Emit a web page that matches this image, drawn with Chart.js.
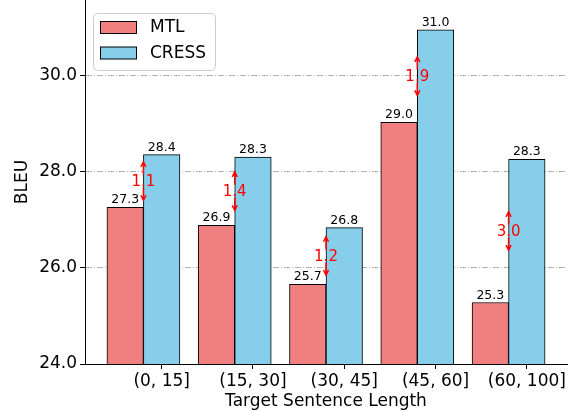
<!DOCTYPE html>
<html>
<head>
<meta charset="utf-8">
<script src="https://cdn.jsdelivr.net/npm/chart.js@4"></script>
<style>
  html, body { margin: 0; padding: 0; background: #fff; }
</style>
</head>
<body>
<canvas id="chart" width="574" height="412"></canvas>
<script>
// ====== DATA ======
const categories = ['(0, 15]', '(15, 30]', '(30, 45]', '(45, 60]', '(60, 100]'];
const mtlScores = [27.26, 26.89, 25.66, 29.03, 25.28];
const cressScores = [28.36, 28.31, 26.84, 30.96, 28.26];
const yTickValues = [24, 26, 28, 30];
const seriesNames = ['MTL', 'CRESS'];

const FONT = '"DejaVu Sans", sans-serif';
const MTL_COLOR = '#f08080';
const CRESS_COLOR = '#87ceeb';

// bars sit either side of the group position, ticks under the CRESS bar
const mtlPoints = mtlScores.map((v, i) => ({ x: i - 0.2, y: v }));
const cressPoints = cressScores.map((v, i) => ({ x: i + 0.2, y: v }));

// ====== ANNOTATIONS ======
const annotations = {
    id: 'annotations',
    afterDatasetsDraw(chart) {
        const ctx = chart.ctx;
        const xs = chart.scales.x;
        const ys = chart.scales.y;
        ctx.save();

        // value labels on top of the bars
        ctx.fillStyle = '#000';
        ctx.font = '12.5px ' + FONT;
        ctx.textAlign = 'center';
        ctx.textBaseline = 'bottom';
        [mtlPoints, cressPoints].forEach(points => {
            points.forEach(p => {
                ctx.fillText(p.y.toFixed(1), xs.getPixelForValue(p.x), ys.getPixelForValue(p.y) - 1);
            });
        });

        // red gap arrows
        ctx.strokeStyle = 'red';
        ctx.fillStyle = 'red';
        ctx.lineWidth = 1.5;
        ctx.font = '15px ' + FONT;
        ctx.textBaseline = 'middle';
        categories.forEach((c, i) => {
            const x = xs.getPixelForValue(i);
            const mid = (mtlScores[i] + cressScores[i]) / 2;
            const top = ys.getPixelForValue(mid + 0.4);
            const bot = ys.getPixelForValue(mid - 0.4);
            const yc = ys.getPixelForValue(mid);
            const gap = 6.5;

            ctx.beginPath();
            ctx.moveTo(x, top); ctx.lineTo(x, yc - gap);
            ctx.moveTo(x, yc + gap); ctx.lineTo(x, bot);
            // heads
            ctx.moveTo(x - 2.5, top + 5); ctx.lineTo(x, top); ctx.lineTo(x + 2.5, top + 5);
            ctx.moveTo(x - 2.5, bot - 5); ctx.lineTo(x, bot); ctx.lineTo(x + 2.5, bot - 5);
            ctx.stroke();

            ctx.fillText((cressScores[i] - mtlScores[i]).toFixed(1), x, yc + 1);
        });
        ctx.restore();
    },
    afterDraw(chart) {
        // legend box inside the axes, top left
        const ctx = chart.ctx;
        ctx.save();
        const bx = 93.5, by = 13.5, bw = 122, bh = 57;
        ctx.fillStyle = 'rgba(255,255,255,0.8)';
        ctx.strokeStyle = '#cccccc';
        ctx.lineWidth = 1;
        ctx.beginPath();
        ctx.roundRect(bx, by, bw, bh, 4);
        ctx.fill();
        ctx.stroke();

        const colors = [MTL_COLOR, CRESS_COLOR];
        ctx.font = '17px ' + FONT;
        ctx.textAlign = 'left';
        ctx.textBaseline = 'middle';
        seriesNames.forEach((name, i) => {
            const ry = 21.5 + i * 25.5;
            ctx.fillStyle = colors[i];
            ctx.fillRect(100.5, ry, 36, 12);
            ctx.strokeStyle = '#000';
            ctx.strokeRect(100.5, ry, 36, 12);
            ctx.fillStyle = '#000';
            ctx.fillText(name, 150, ry + 6.5);
        });
        ctx.restore();
    }
};

// ====== CHART ======
const chart = new Chart(document.getElementById('chart'), {
    type: 'bar',
    data: {
        datasets: [
            { label: seriesNames[0], data: mtlPoints, backgroundColor: MTL_COLOR },
            { label: seriesNames[1], data: cressPoints, backgroundColor: CRESS_COLOR }
        ]
    },
    options: {
        responsive: false,
        animation: false,
        layout: { padding: { left: 0, right: 7, top: 0, bottom: 0 } },
        datasets: {
            bar: {
                grouped: false,
                categoryPercentage: 1,
                barPercentage: 1,
                borderColor: '#000',
                borderWidth: 1,
                borderSkipped: false
            }
        },
        plugins: {
            legend: { display: false },
            tooltip: { enabled: false }
        },
        scales: {
            x: {
                type: 'linear',
                offset: false,
                min: -0.64,
                max: 4.64,
                afterBuildTicks: s => { s.ticks = categories.map((c, i) => ({ value: i + 0.2 })); },
                afterFit: s => { s.height = 48; s.paddingLeft = 0; s.paddingRight = 0; },
                ticks: {
                    callback: (v, i) => categories[i],
                    autoSkip: false,
                    maxRotation: 0,
                    color: '#000',
                    padding: 2,
                    font: { family: FONT, size: 17 }
                },
                grid: {
                    offset: false,
                    drawOnChartArea: false,
                    tickLength: 5,
                    tickColor: '#000'
                },
                border: { color: '#000', width: 1 },
                title: {
                    display: true,
                    text: 'Target Sentence Length',
                    color: '#000',
                    padding: { top: 0, bottom: 0 },
                    font: { family: FONT, size: 17 }
                }
            },
            y: {
                min: 24,
                max: 31.58,
                afterBuildTicks: s => { s.ticks = yTickValues.map(v => ({ value: v })); },
                afterFit: s => { s.width = 85; s.paddingTop = 0; s.paddingBottom = 0; },
                ticks: {
                    callback: v => v.toFixed(1),
                    color: '#000',
                    padding: 3,
                    font: { family: FONT, size: 17 }
                },
                grid: {
                    color: ctx => ctx.tick && ctx.tick.value === 24 ? 'rgba(0,0,0,0)' : '#b0b0b0',
                    tickLength: 5,
                    tickColor: '#000',
                    tickBorderDash: []
                },
                border: { color: '#000', width: 1, dash: [6, 2, 1, 2] },
                title: {
                    display: true,
                    text: 'BLEU',
                    color: '#000',
                    padding: { top: 12, bottom: 0 },
                    font: { family: FONT, size: 17 }
                }
            }
        }
    },
    plugins: [annotations]
});
</script>
</body>
</html>
